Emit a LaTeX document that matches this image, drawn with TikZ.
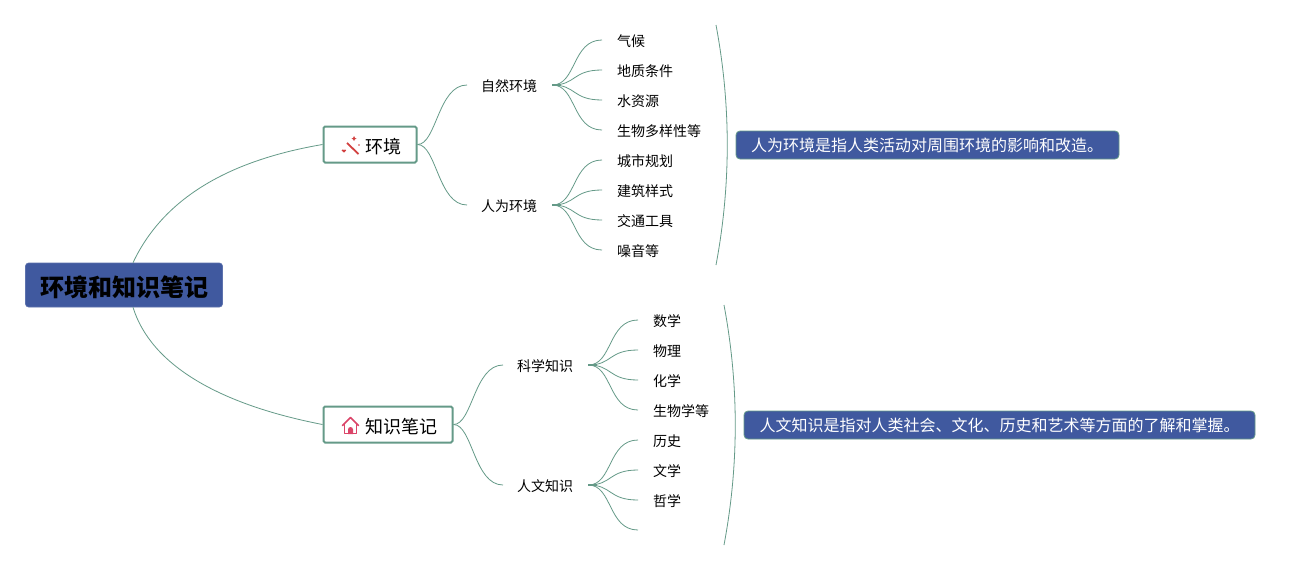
\documentclass[tikz,border=0pt]{standalone}
\usepackage{fontspec}
\setmainfont{Noto Sans CJK SC}
\usetikzlibrary{calc}
\definecolor{linkc}{HTML}{659A88}
\definecolor{bluec}{HTML}{40599F}
\definecolor{redc}{HTML}{D2403F}
\definecolor{pinkc}{HTML}{DB4468}
\tikzset{
  rootbox/.style={fill=bluec,draw=bluec!85!white,rounded corners=3pt,line width=.6pt,inner sep=0pt,text=black,font=\fontsize{24}{24}\selectfont\bfseries},
  mainbox/.style={fill=white,draw=linkc,line width=2pt,rounded corners=1.5pt,inner sep=0pt,text=black},
  maintxt/.style={inner sep=0pt,anchor=west,font=\fontsize{18}{18}\selectfont},
  sumbox/.style={fill=bluec,draw=linkc,line width=.8pt,rounded corners=4pt,inner sep=0pt,text=white,font=\fontsize{16}{16}\selectfont},
  sumtxt/.style={inner sep=0pt,text=white,font=\fontsize{16}{16}\selectfont},
  branchtxt/.style={font=\fontsize{14}{14}\selectfont,text=black,inner sep=0pt,anchor=west},
  leaftxt/.style={font=\fontsize{14}{14}\selectfont,text=black,inner sep=0pt,anchor=west},
  conn/.style={draw=linkc,line width=.8pt},
  stub/.style={draw=linkc,line width=1.8pt},
}
\begin{document}
\begin{tikzpicture}[x=1pt,y=-1pt]
\useasboundingbox (0,0) rectangle (1300,570);
\fill[white] (0,0) rectangle (1300,570);

% boxes
\node[rootbox,minimum width=197pt,minimum height=44pt] (root) at (124,285) {};
\node[inner sep=0pt,font=\fontsize{24}{24}\selectfont\bfseries] (roott) at (124,287) {环境和知识笔记};
\node[mainbox,minimum width=93pt,minimum height=36pt] (env) at (370,144.5) {};
\node[mainbox,minimum width=129pt,minimum height=36pt] (know) at (388,424.5) {};
\node[maintxt] (envt) at (365,146.5) {环境};
\node[maintxt] (knowt) at (365,426.5) {知识笔记};

\node[branchtxt] (b1) at (481,86.5) {自然环境};
\node[branchtxt] (b2) at (481,206.5) {人为环境};
\node[branchtxt] (b3) at (517,366.5) {科学知识};
\node[branchtxt] (b4) at (517,486.5) {人文知识};

\node[leaftxt] (l1) at (617,41.5) {气候};
\node[leaftxt] (l2) at (617,71.5) {地质条件};
\node[leaftxt] (l3) at (617,101.5) {水资源};
\node[leaftxt] (l4) at (617,131.5) {生物多样性等};
\node[leaftxt] (l5) at (617,161.5) {城市规划};
\node[leaftxt] (l6) at (617,191.5) {建筑样式};
\node[leaftxt] (l7) at (617,221.5) {交通工具};
\node[leaftxt] (l8) at (617,251.5) {噪音等};
\node[leaftxt] (m1) at (653,321.5) {数学};
\node[leaftxt] (m2) at (653,351.5) {物理};
\node[leaftxt] (m3) at (653,381.5) {化学};
\node[leaftxt] (m4) at (653,411.5) {生物学等};
\node[leaftxt] (m5) at (653,441.5) {历史};
\node[leaftxt] (m6) at (653,471.5) {文学};
\node[leaftxt] (m7) at (653,501.5) {哲学};
\coordinate (m8) at (653,531.5);

\node[sumbox,minimum width=383pt,minimum height=28pt] (s1) at (927.5,145) {};
\node[sumtxt] (s1t) at (927,145.5) {人为环境是指人类活动对周围环境的影响和改造。};
\node[sumbox,minimum width=511pt,minimum height=28pt] (s2) at (999.5,425) {};
\node[sumtxt] (s2t) at (999.5,425.5) {人文知识是指对人类社会、文化、历史和艺术等方面的了解和掌握。};

% main curves
\draw[conn] ($(root.north)+(9,0)$) .. controls +(32,-68) and +(-88,15) .. (env.west);
\draw[conn] ($(root.south)+(9,0)$) .. controls +(18,58) and +(-103,-20) .. (know.west);
\foreach \bx/\bn in {env/b1,env/b2,know/b3,know/b4}{
  \draw[conn] (\bx.east) .. controls +(19,0) and +(-29,0) .. ($(\bn.west)+(-14,-1.5)$);
}
% stubs and fans
\foreach \bn/\leaves in {b1/{l1,l2,l3,l4},b2/{l5,l6,l7,l8},b3/{m1,m2,m3,m4},b4/{m5,m6,m7,m8}}{
  \draw[stub] ($(\bn.east)+(15,-1.5)$) -- ++(9,0);
  \foreach \lf in \leaves {
    \draw[conn] ($(\bn.east)+(15,-1.5)$) .. controls +(24,0) and +(-30,0) .. ($(\lf.west)+(-15,-1.5)$);
  }
}
% brackets
\draw[conn] (716,25) .. controls (731,105) and (731,185) .. (716,265);
\draw[conn] (724,305) .. controls (739,385) and (739,465) .. (724,545);

% wand icon
\draw[redc,line width=1.8pt] (347,143) -- (358.5,154);
\fill[redc] (344,150.5) -- (345,149.3) -- (346.2,150.5) -- (345,151.7) -- (344,152.6) -- (343,151.7) -- (341.6,150.5) -- (343,149.3) -- cycle;
\fill[redc] (354,136) -- (355,138) -- (356.5,138.5) -- (355,139.3) -- (354,141) -- (353,139.3) -- (351.5,138.5) -- (353,138) -- cycle;
\fill[redc] (359,145) circle (.9pt);
% house icon
\draw[pinkc,line width=1.5pt,line join=round,line cap=round] (342.5,425.5) -- (350.5,417.5) -- (358.5,425.5);
\draw[pinkc,line width=1.5pt,line join=round] (344.5,424) -- (344.5,433.5) -- (356.5,433.5) -- (356.5,424);
\fill[pinkc] (348,434) -- (348,429.5) arc (180:360:2.5 and 2.5) -- (353,434) -- cycle;
\end{tikzpicture}
\end{document}
